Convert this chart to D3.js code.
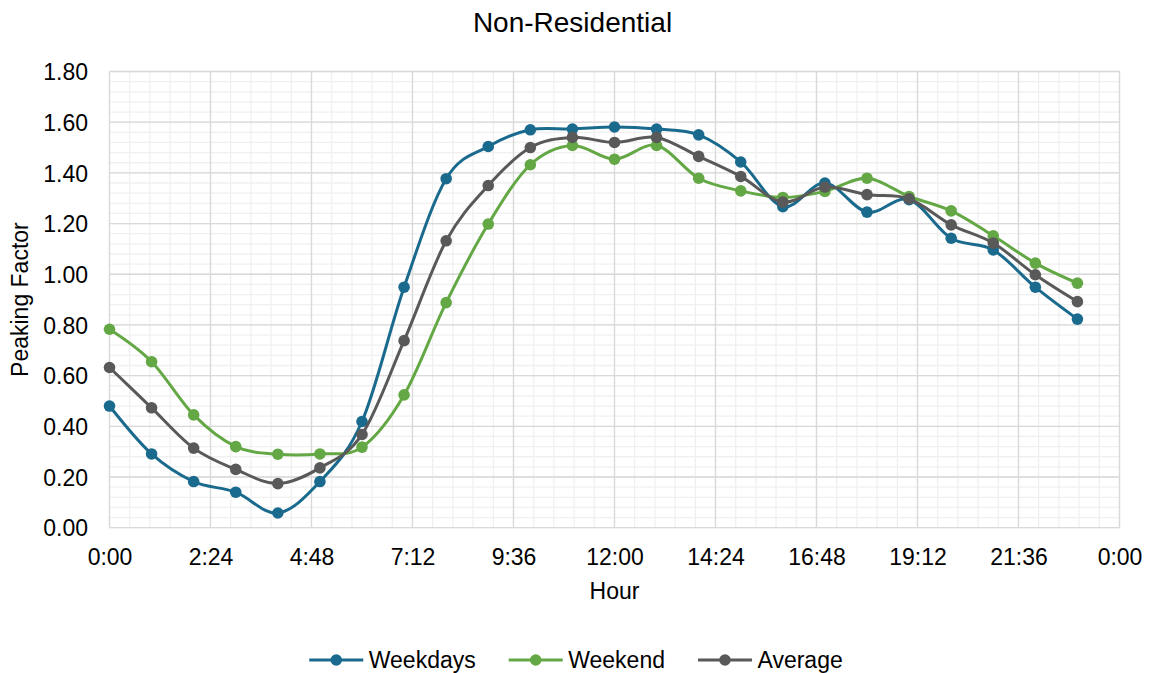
<!DOCTYPE html>
<html>
<head>
<meta charset="utf-8">
<script src="https://cdn.jsdelivr.net/npm/d3@7"></script>
<style>
  html, body { margin: 0; padding: 0; background: #fff; }
  svg { display: block; font-family: "Liberation Sans", Arial, sans-serif; }
</style>
</head>
<body>
<svg id="chart" width="1149" height="673"></svg>
<script>
// ---- data ----
const hours = [0,1,2,3,4,5,6,7,8,9,10,11,12,13,14,15,16,17,18,19,20,21,22,23];
const weekdays = [0.48,0.291,0.182,0.140,0.058,0.182,0.419,0.949,1.377,1.504,1.570,1.573,1.581,1.573,1.550,1.443,1.267,1.360,1.245,1.294,1.142,1.096,0.949,0.823];
const weekend  = [0.783,0.655,0.445,0.320,0.290,0.291,0.318,0.524,0.888,1.198,1.432,1.508,1.454,1.508,1.379,1.329,1.303,1.327,1.379,1.307,1.250,1.152,1.044,0.965];
const average  = [0.632,0.473,0.314,0.230,0.174,0.236,0.368,0.738,1.132,1.350,1.500,1.540,1.520,1.540,1.465,1.386,1.285,1.344,1.314,1.298,1.195,1.123,0.998,0.892];
const seriesNames = ["Weekdays","Weekend","Average"];
const xTickLabels = ["0:00","2:24","4:48","7:12","9:36","12:00","14:24","16:48","19:12","21:36","0:00"];
const yTickLabels = ["0.00","0.20","0.40","0.60","0.80","1.00","1.20","1.40","1.60","1.80"];
const chartTitle = "Non-Residential";
const xTitle = "Hour";
const yTitle = "Peaking Factor";

(function () {
// ---- layout ----
const colors = ["#1a6a8e", "#64a845", "#595959"];
const svg = d3.select("#chart");
const pL = 109.5, pR = 1119.5, pT = 71.5, pB = 527.7;
const x = d3.scaleLinear().domain([0, 24]).range([pL, pR]);
const y = d3.scaleLinear().domain([0, 1.8]).range([pB, pT]);

// minor grid
const g = svg.append("g");
const minorX = d3.range(0, 51).map(i => i * 0.48);
const minorY = d3.range(0, 46).map(i => i * 0.04);
g.selectAll("line.mx").data(minorX).join("line").attr("class", "mx")
  .attr("x1", d => x(d)).attr("x2", d => x(d)).attr("y1", pT).attr("y2", pB)
  .attr("stroke", "#f0f0f0").attr("stroke-width", 1.3);
g.selectAll("line.my").data(minorY).join("line").attr("class", "my")
  .attr("y1", d => y(d)).attr("y2", d => y(d)).attr("x1", pL).attr("x2", pR)
  .attr("stroke", "#f0f0f0").attr("stroke-width", 1.3);
// major grid
const majorX = d3.range(0, 11).map(i => i * 2.4);
const majorY = d3.range(0, 10).map(i => i * 0.2);
g.selectAll("line.MX").data(majorX).join("line").attr("class", "MX")
  .attr("x1", d => x(d)).attr("x2", d => x(d)).attr("y1", pT).attr("y2", pB)
  .attr("stroke", "#d9d9d9").attr("stroke-width", 1.3);
g.selectAll("line.MY").data(majorY).join("line").attr("class", "MY")
  .attr("y1", d => y(d)).attr("y2", d => y(d)).attr("x1", pL).attr("x2", pR)
  .attr("stroke", "#d9d9d9").attr("stroke-width", 1.3);

// axes (tick labels via d3 axes)
const xAxis = d3.axisBottom(x).tickValues(majorX).tickSize(0).tickPadding(0)
  .tickFormat((d, i) => xTickLabels[i]);
const xa = svg.append("g").attr("transform", `translate(0,${pB})`).call(xAxis);
xa.select(".domain").remove();
xa.selectAll("text").attr("y", 37).attr("dy", 0).attr("font-size", 23)
  .attr("fill", "#000").attr("font-family", "Liberation Sans, Arial, sans-serif");

const yAxis = d3.axisLeft(y).tickValues(majorY).tickSize(0).tickPadding(0)
  .tickFormat((d, i) => yTickLabels[i]);
const ya = svg.append("g").attr("transform", `translate(${pL - 21.5},0)`).call(yAxis);
ya.select(".domain").remove();
ya.selectAll("text").attr("x", 0).attr("dy", "0.36em").attr("font-size", 23)
  .attr("fill", "#000").attr("font-family", "Liberation Sans, Arial, sans-serif");

// titles
svg.append("text").attr("x", 572.5).attr("y", 31.5).attr("text-anchor", "middle")
  .attr("font-size", 28).attr("fill", "#000").text(chartTitle);
svg.append("text").attr("x", (pL + pR) / 2).attr("y", 599).attr("text-anchor", "middle")
  .attr("font-size", 23).attr("fill", "#000").text(xTitle);
svg.append("text").attr("transform", `translate(28,${(pT + pB) / 2}) rotate(-90)`)
  .attr("text-anchor", "middle").attr("font-size", 23).attr("fill", "#000").text(yTitle);

// series
const allSeries = [weekdays, weekend, average];
const line = d3.line().x((d, i) => x(hours[i])).y(d => y(d)).curve(d3.curveCatmullRom.alpha(0));
allSeries.forEach((vals, si) => {
  const sg = svg.append("g");
  sg.append("path").datum(vals).attr("d", line).attr("fill", "none")
    .attr("stroke", colors[si]).attr("stroke-width", 3).attr("stroke-linejoin", "round");
  sg.selectAll("circle").data(vals).join("circle")
    .attr("cx", (d, i) => x(hours[i])).attr("cy", d => y(d)).attr("r", 5.8)
    .attr("fill", colors[si]);
});

// legend
const lg = svg.append("g");
const legendY = 660;
const items = [];
seriesNames.forEach((name, i) => {
  const it = lg.append("g");
  it.append("line").attr("x1", 0).attr("x2", 54).attr("y1", legendY).attr("y2", legendY)
    .attr("stroke", colors[i]).attr("stroke-width", 3);
  it.append("circle").attr("cx", 27).attr("cy", legendY).attr("r", 5.8).attr("fill", colors[i]);
  const t = it.append("text").attr("x", 59.5).attr("y", legendY).attr("dy", "0.36em")
    .attr("font-size", 23).attr("fill", "#000").text(name);
  const w = 59.5 + t.node().getComputedTextLength();
  items.push({ it, w });
});
const gap = 33;
const total = d3.sum(items, d => d.w) + gap * (items.length - 1);
let start = 576 - total / 2;
items.forEach(d => { d.it.attr("transform", `translate(${start},0)`); start += d.w + gap; });
})();
</script>
</body>
</html>
